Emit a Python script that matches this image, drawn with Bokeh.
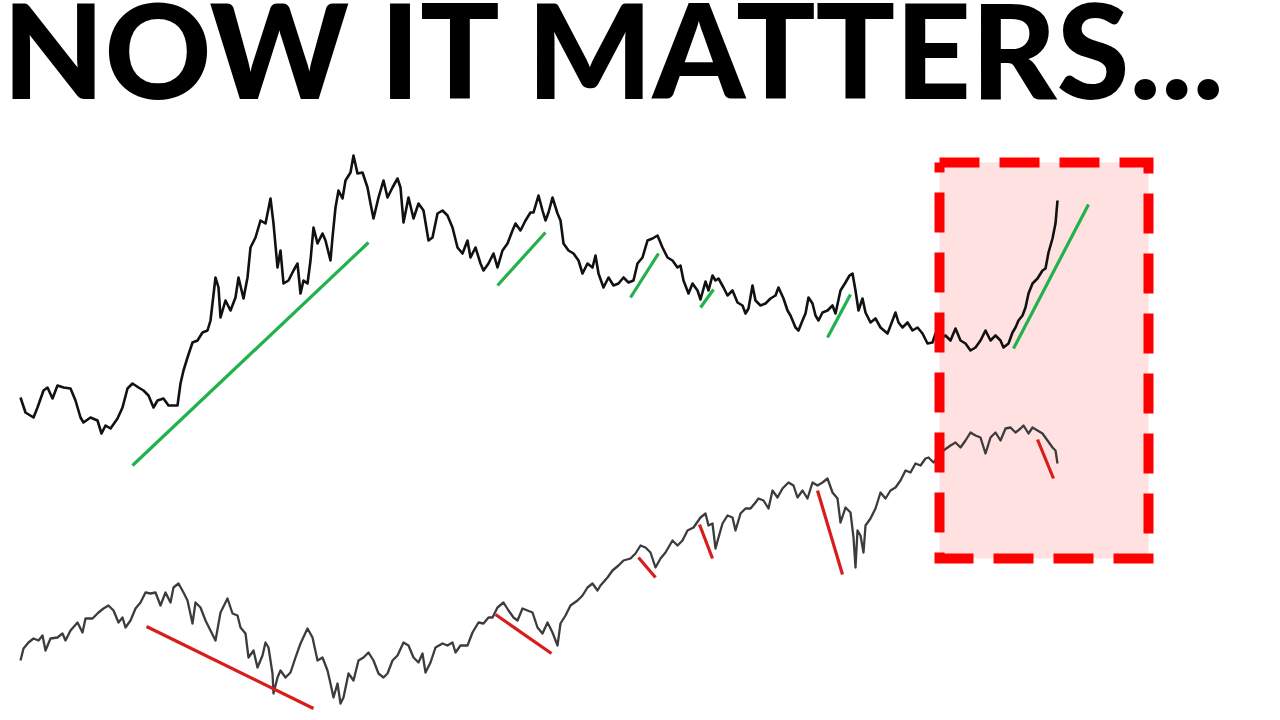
from bokeh.plotting import figure
from bokeh.models import Range1d, Label
from bokeh.embed import file_html
from bokeh.resources import INLINE

# ---------------- data (level = 720 - image row) ----------------
upper_t = [20,25,33,37,43,47,52,57,63,70,75,80,83,90,97,101,105,110,117,122,127,132,138,143,148,153,157,163,168,177,
           180,183,187,192,197,202,207,210,215,218,220,225,230,235,238,243,247,250,255,260,265,270,273,277,280,283,288,293,297,300,
           303,307,310,313,317,322,325,330,332,335,338,342,345,350,353,357,362,367,370,
           373,378,383,387,392,397,400,403,408,413,418,423,428,432,437,442,447,452,457,462,467,470,475,480,483,488,493,497,502,507,
           512,515,520,525,530,533,538,542,545,548,552,557,560,563,568,573,578,582,587,592,595,598,603,608,613,618,623,628,633,637,
           642,647,652,657,662,667,672,677,680,683,688,692,697,700,
           705,708,712,715,718,723,727,732,737,742,745,748,752,755,760,765,770,775,778,783,787,790,795,798,802,805,808,812,815,818,
           822,827,832,835,840,845,849,852,855,858,862,865,870,875,880,887,892,895,898,902,907,912,917,922,927,932,935,940,945,950,
           955,960,965,970,975,980,985,990,995,1000,1003,1008,1012,1015,1018,1022,1025,1028,1032,1037,1042,1045,1048,1052,1055,1057]
upper_row = [397,412,417,407,390,387,398,385,387,388,400,417,422,417,420,433,425,428,418,407,388,383,387,390,395,407,400,398,405,405,
             383,370,357,342,340,332,330,320,277,287,317,300,310,297,277,298,277,247,237,220,223,198,223,267,250,283,280,270,263,293,
             280,283,260,227,243,233,240,260,237,207,190,198,180,172,155,173,172,187,203,
             218,197,180,197,187,178,187,222,197,218,203,210,240,237,213,210,215,227,247,253,240,257,247,263,270,263,253,267,250,243,
             230,223,230,220,212,212,195,210,220,212,197,213,220,243,250,253,260,273,263,267,255,273,287,277,285,283,277,282,280,263,
             257,240,238,235,247,257,260,267,265,280,293,283,290,299,
             281,290,275,280,278,287,295,290,302,305,313,308,285,300,305,303,298,295,287,298,310,315,327,330,320,313,297,303,315,320,
             312,310,305,313,290,282,275,273,290,310,298,312,322,318,327,333,320,312,322,327,322,330,327,333,343,342,333,337,335,340,
             328,340,343,350,347,340,330,340,335,340,347,343,332,327,320,315,307,293,283,278,270,268,252,238,223,200]

lower_t = [20,23,28,33,38,42,45,50,57,62,65,70,77,82,85,92,98,103,108,113,118,122,125,130,135,140,145,150,155,160,
           165,170,173,178,183,187,192,195,200,205,210,215,220,227,232,237,240,245,248,253,257,262,265,268,272,273,277,280,285,290,
           295,300,307,312,317,322,327,330,333,337,340,343,348,353,358,363,368,
           373,378,383,387,392,397,403,408,413,418,422,425,430,435,442,447,452,455,460,467,472,478,483,488,492,497,503,508,513,517,
           522,527,532,537,542,547,552,557,560,565,570,577,582,587,592,597,600,607,612,618,623,630,635,640,645,650,655,660,665,672,
           677,682,687,693,700,
           705,708,712,715,718,722,727,732,735,740,745,750,755,758,763,768,772,777,782,788,793,797,802,807,812,817,822,827,832,837,
           840,845,850,853,855,857,860,863,865,870,875,880,885,890,895,900,905,910,915,920,925,928,933,943,950,955,960,965,970,975,
           980,985,990,995,1000,1005,1010,1015,1020,1023,1028,1032,1037,1042,1047,1052,1055,1057]
lower_row = [660,648,642,638,640,635,650,638,637,633,640,630,622,632,618,618,612,608,605,610,622,617,627,620,608,602,592,593,592,605,
             592,602,587,583,592,600,623,602,607,620,630,640,612,598,613,615,627,633,657,650,667,655,642,647,673,693,677,670,677,672,
             657,643,628,637,660,657,670,683,697,683,703,697,673,680,660,657,652,
             660,673,677,673,660,655,642,645,657,662,653,672,662,647,643,645,642,652,645,645,632,622,623,617,617,607,602,610,617,620,
             608,610,612,627,633,622,632,645,623,615,605,600,595,587,583,590,585,577,570,565,560,558,553,545,547,552,567,558,552,540,
             545,540,530,527,517,
             513,525,523,548,537,523,515,517,530,513,508,508,502,498,500,508,490,497,488,482,485,497,490,498,482,485,482,478,492,498,
             522,507,512,537,567,530,535,552,525,518,508,492,498,490,487,480,470,472,463,465,458,457,462,450,445,442,447,440,432,435,
             437,453,437,432,440,428,427,432,428,425,433,427,430,433,440,447,450,463]

# trend segments: start/end time and start/end row
up_t0 = [132, 497, 630, 700, 827, 1013]
up_t1 = [368, 545, 658, 713, 850, 1088]
up_r0 = [465, 285, 297, 307, 337, 348]
up_r1 = [242, 232, 253, 289, 294, 204]

dn_t0 = [146, 495, 638, 699, 817, 1037]
dn_t1 = [313, 551, 655, 712, 842, 1053]
dn_r0 = [626, 614, 557, 524, 490, 439]
dn_r1 = [708, 653, 577, 558, 574, 478]

zone_t = [939, 1148]
zone_r = [162, 558]

title_text = "NOW IT MATTERS..."

# ---------------- conversion to levels ----------------
def lv(rows):
    return [720 - r for r in rows]

upper_lv = lv(upper_row)
lower_lv = lv(lower_row)

p = figure(width=1280, height=720, x_range=Range1d(0, 1280), y_range=Range1d(0, 720),
           output_backend="svg", toolbar_location=None, min_border=0)
p.xaxis.visible = False
p.yaxis.visible = False
p.grid.visible = False
p.outline_line_color = None
p.background_fill_color = "white"
p.border_fill_color = "white"

zl = lv(zone_r)
p.quad(left=[zone_t[0]], right=[zone_t[1]], top=[zl[0]], bottom=[zl[1]],
       fill_color="#FFE1E2", line_color=None)

p.line(upper_t, upper_lv, line_color="#111111", line_width=2.6, line_join="round")
p.line(lower_t, lower_lv, line_color="#3C3C3C", line_width=2.3, line_join="round")

p.segment(x0=up_t0, y0=lv(up_r0), x1=up_t1, y1=lv(up_r1), line_color="#22B14C", line_width=3.2)
p.segment(x0=dn_t0, y0=lv(dn_r0), x1=dn_t1, y1=lv(dn_r1), line_color="#D91C1C", line_width=3.2)

bx = [zone_t[0], zone_t[1], zone_t[1], zone_t[0], zone_t[0]]
by = [zl[0], zl[0], zl[1], zl[1], zl[0]]
p.line(bx, by, line_color="#FF0000", line_width=10, line_dash="40 20", line_join="miter", line_cap="butt")

p.add_layout(Label(x=2, y=673, text=title_text, text_font="'Lato Black', 'Liberation Sans'", text_font_style="bold",
                   text_font_size="132px", text_color="#000000", text_baseline="alphabetic"))

open("out.html", "w").write(file_html(p, INLINE))
